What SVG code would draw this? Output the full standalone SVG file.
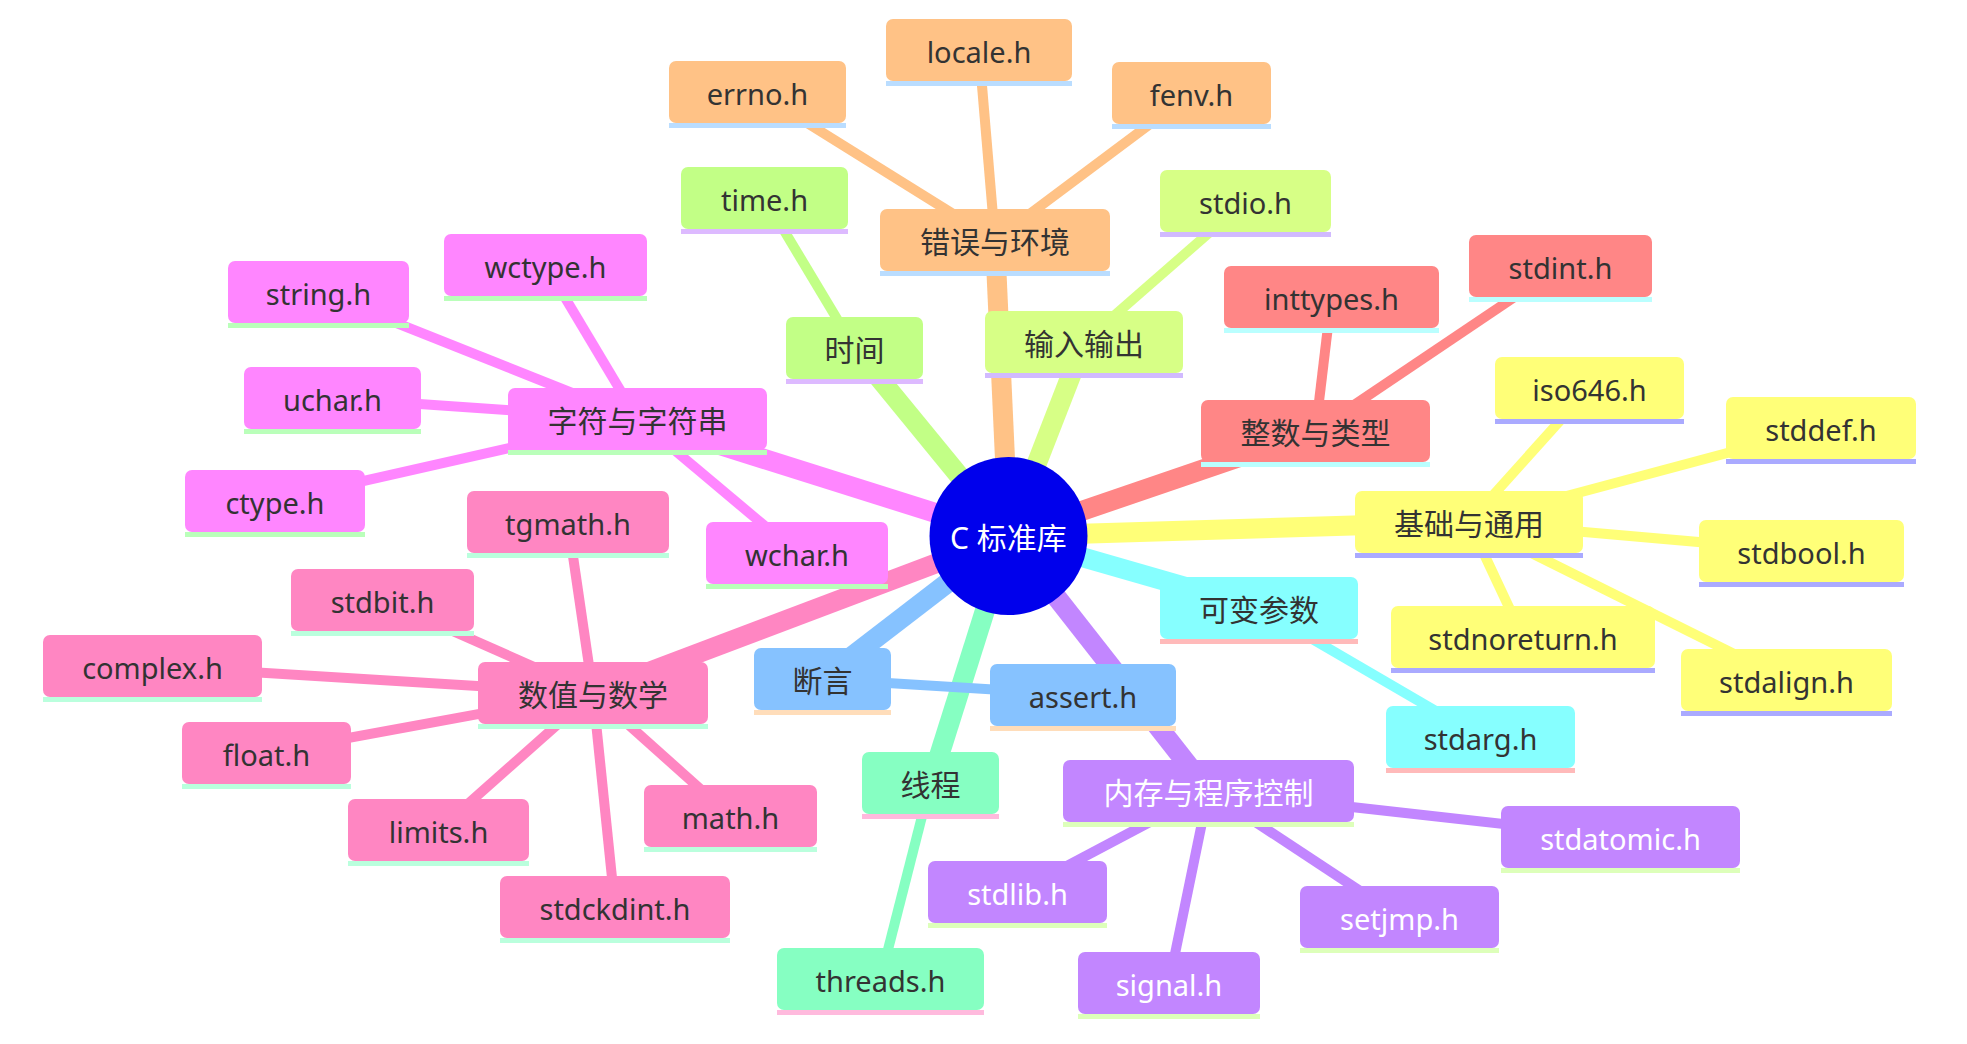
<svg xmlns="http://www.w3.org/2000/svg" width="1967" height="1044" viewBox="0 0 1967 1044">
<style>
text{font-family:"Noto Sans","Noto Sans CJK SC",sans-serif;font-size:29px;fill:#333;text-anchor:middle}
text.c{font-size:30px}
text.w{fill:#fff}
.e0{stroke-width:20;fill:none}
.e1{stroke-width:10;fill:none}
.f0{fill:#ffff78}.l0{fill:#aaaaff}.k0{stroke:#ffff78}
.f1{fill:#d7ff86}.l1{fill:#d1baff}.k1{stroke:#d7ff86}
.f2{fill:#c286ff}.l2{fill:#ddffba}.k2{stroke:#c286ff}
.f3{fill:#ff86ff}.l3{fill:#baffba}.k3{stroke:#ff86ff}
.f4{fill:#ff86c2}.l4{fill:#baffdd}.k4{stroke:#ff86c2}
.f5{fill:#ff8686}.l5{fill:#baffff}.k5{stroke:#ff8686}
.f6{fill:#ffc286}.l6{fill:#baddff}.k6{stroke:#ffc286}
.f7{fill:#c2ff86}.l7{fill:#ddbaff}.k7{stroke:#c2ff86}
.f8{fill:#86ffc2}.l8{fill:#ffbadd}.k8{stroke:#86ffc2}
.f9{fill:#86ffff}.l9{fill:#ffbaba}.k9{stroke:#86ffff}
.f10{fill:#86c2ff}.l10{fill:#ffddba}.k10{stroke:#86c2ff}
</style>
<rect width="1967" height="1044" fill="#fff"/>
<g id="connectors">
<line class="e0 k0" x1="1008.5" y1="536" x2="1469" y2="522"/>
<line class="e0 k1" x1="1008.5" y1="536" x2="1084" y2="342"/>
<line class="e0 k2" x1="1008.5" y1="536" x2="1208.5" y2="791"/>
<line class="e0 k3" x1="1008.5" y1="536" x2="637.5" y2="419"/>
<line class="e0 k4" x1="1008.5" y1="536" x2="593" y2="693"/>
<line class="e0 k5" x1="1008.5" y1="536" x2="1315.5" y2="431"/>
<line class="e0 k6" x1="1008.5" y1="536" x2="995" y2="240"/>
<line class="e0 k7" x1="1008.5" y1="536" x2="854.5" y2="348"/>
<line class="e0 k8" x1="1008.5" y1="536" x2="930.5" y2="783"/>
<line class="e0 k9" x1="1008.5" y1="536" x2="1259" y2="608"/>
<line class="e0 k10" x1="1008.5" y1="536" x2="822.5" y2="679"/>
<line class="e1 k0" x1="1469" y1="522" x2="1589.5" y2="388"/>
<line class="e1 k0" x1="1469" y1="522" x2="1821" y2="428"/>
<line class="e1 k0" x1="1469" y1="522" x2="1801.5" y2="551"/>
<line class="e1 k0" x1="1469" y1="522" x2="1523" y2="637"/>
<line class="e1 k0" x1="1469" y1="522" x2="1786.5" y2="680"/>
<line class="e1 k1" x1="1084" y1="342" x2="1245.5" y2="201"/>
<line class="e1 k2" x1="1208.5" y1="791" x2="1017.5" y2="892"/>
<line class="e1 k2" x1="1208.5" y1="791" x2="1169" y2="983"/>
<line class="e1 k2" x1="1208.5" y1="791" x2="1399.5" y2="917"/>
<line class="e1 k2" x1="1208.5" y1="791" x2="1620.5" y2="837"/>
<line class="e1 k3" x1="637.5" y1="419" x2="318.5" y2="292"/>
<line class="e1 k3" x1="637.5" y1="419" x2="545.5" y2="265"/>
<line class="e1 k3" x1="637.5" y1="419" x2="332.5" y2="398"/>
<line class="e1 k3" x1="637.5" y1="419" x2="275" y2="501"/>
<line class="e1 k3" x1="637.5" y1="419" x2="797" y2="553"/>
<line class="e1 k4" x1="593" y1="693" x2="568" y2="522"/>
<line class="e1 k4" x1="593" y1="693" x2="382.5" y2="600"/>
<line class="e1 k4" x1="593" y1="693" x2="152.5" y2="666"/>
<line class="e1 k4" x1="593" y1="693" x2="266.5" y2="753"/>
<line class="e1 k4" x1="593" y1="693" x2="438.5" y2="830"/>
<line class="e1 k4" x1="593" y1="693" x2="615" y2="907"/>
<line class="e1 k4" x1="593" y1="693" x2="730.5" y2="816"/>
<line class="e1 k5" x1="1315.5" y1="431" x2="1331.5" y2="297"/>
<line class="e1 k5" x1="1315.5" y1="431" x2="1560.5" y2="266"/>
<line class="e1 k6" x1="995" y1="240" x2="757.5" y2="92"/>
<line class="e1 k6" x1="995" y1="240" x2="979" y2="50"/>
<line class="e1 k6" x1="995" y1="240" x2="1191.5" y2="93"/>
<line class="e1 k7" x1="854.5" y1="348" x2="764.5" y2="198"/>
<line class="e1 k8" x1="930.5" y1="783" x2="880.5" y2="979"/>
<line class="e1 k9" x1="1259" y1="608" x2="1480.5" y2="737"/>
<line class="e1 k10" x1="822.5" y1="679" x2="1083" y2="695"/>
</g>
<g id="root"><circle cx="1008.5" cy="536" r="79" fill="#0000ec"/><text class="c w" x="1008.5" y="548.5">C 标准库</text></g>

<g id="n-base"><rect class="f0" x="1355" y="491" width="228" height="62" rx="7"/><rect class="l0" x="1355" y="553" width="228" height="5"/><text class="c" x="1469" y="534.5">基础与通用</text></g>
<g id="n-iso646"><rect class="f0" x="1495" y="357" width="189" height="62" rx="7"/><rect class="l0" x="1495" y="419" width="189" height="5"/><text x="1589.5" y="400.5">iso646.h</text></g>
<g id="n-stddef"><rect class="f0" x="1726" y="397" width="190" height="62" rx="7"/><rect class="l0" x="1726" y="459" width="190" height="5"/><text x="1821" y="440.5">stddef.h</text></g>
<g id="n-stdbool"><rect class="f0" x="1699" y="520" width="205" height="62" rx="7"/><rect class="l0" x="1699" y="582" width="205" height="5"/><text x="1801.5" y="563.5">stdbool.h</text></g>
<g id="n-stdnoreturn"><rect class="f0" x="1391" y="606" width="264" height="62" rx="7"/><rect class="l0" x="1391" y="668" width="264" height="5"/><text x="1523" y="649.5">stdnoreturn.h</text></g>
<g id="n-stdalign"><rect class="f0" x="1681" y="649" width="211" height="62" rx="7"/><rect class="l0" x="1681" y="711" width="211" height="5"/><text x="1786.5" y="692.5">stdalign.h</text></g>

<g id="n-io"><rect class="f1" x="985" y="311" width="198" height="62" rx="7"/><rect class="l1" x="985" y="373" width="198" height="5"/><text class="c" x="1084" y="354.5">输入输出</text></g>
<g id="n-stdio"><rect class="f1" x="1160" y="170" width="171" height="62" rx="7"/><rect class="l1" x="1160" y="232" width="171" height="5"/><text x="1245.5" y="213.5">stdio.h</text></g>

<g id="n-mem"><rect class="f2" x="1063" y="760" width="291" height="62" rx="7"/><rect class="l2" x="1063" y="822" width="291" height="5"/><text class="c w" x="1208.5" y="803.5">内存与程序控制</text></g>
<g id="n-stdlib"><rect class="f2" x="928" y="861" width="179" height="62" rx="7"/><rect class="l2" x="928" y="923" width="179" height="5"/><text class="w" x="1017.5" y="904.5">stdlib.h</text></g>
<g id="n-signal"><rect class="f2" x="1078" y="952" width="182" height="62" rx="7"/><rect class="l2" x="1078" y="1014" width="182" height="5"/><text class="w" x="1169" y="995.5">signal.h</text></g>
<g id="n-setjmp"><rect class="f2" x="1300" y="886" width="199" height="62" rx="7"/><rect class="l2" x="1300" y="948" width="199" height="5"/><text class="w" x="1399.5" y="929.5">setjmp.h</text></g>
<g id="n-stdatomic"><rect class="f2" x="1501" y="806" width="239" height="62" rx="7"/><rect class="l2" x="1501" y="868" width="239" height="5"/><text class="w" x="1620.5" y="849.5">stdatomic.h</text></g>

<g id="n-str"><rect class="f3" x="508" y="388" width="259" height="62" rx="7"/><rect class="l3" x="508" y="450" width="259" height="5"/><text class="c" x="637.5" y="431.5">字符与字符串</text></g>
<g id="n-string"><rect class="f3" x="228" y="261" width="181" height="62" rx="7"/><rect class="l3" x="228" y="323" width="181" height="5"/><text x="318.5" y="304.5">string.h</text></g>
<g id="n-wctype"><rect class="f3" x="444" y="234" width="203" height="62" rx="7"/><rect class="l3" x="444" y="296" width="203" height="5"/><text x="545.5" y="277.5">wctype.h</text></g>
<g id="n-uchar"><rect class="f3" x="244" y="367" width="177" height="62" rx="7"/><rect class="l3" x="244" y="429" width="177" height="5"/><text x="332.5" y="410.5">uchar.h</text></g>
<g id="n-ctype"><rect class="f3" x="185" y="470" width="180" height="62" rx="7"/><rect class="l3" x="185" y="532" width="180" height="5"/><text x="275" y="513.5">ctype.h</text></g>
<g id="n-wchar"><rect class="f3" x="706" y="522" width="182" height="62" rx="7"/><rect class="l3" x="706" y="584" width="182" height="5"/><text x="797" y="565.5">wchar.h</text></g>

<g id="n-math-grp"><rect class="f4" x="478" y="662" width="230" height="62" rx="7"/><rect class="l4" x="478" y="724" width="230" height="5"/><text class="c" x="593" y="705.5">数值与数学</text></g>
<g id="n-tgmath"><rect class="f4" x="467" y="491" width="202" height="62" rx="7"/><rect class="l4" x="467" y="553" width="202" height="5"/><text x="568" y="534.5">tgmath.h</text></g>
<g id="n-stdbit"><rect class="f4" x="291" y="569" width="183" height="62" rx="7"/><rect class="l4" x="291" y="631" width="183" height="5"/><text x="382.5" y="612.5">stdbit.h</text></g>
<g id="n-complex"><rect class="f4" x="43" y="635" width="219" height="62" rx="7"/><rect class="l4" x="43" y="697" width="219" height="5"/><text x="152.5" y="678.5">complex.h</text></g>
<g id="n-float"><rect class="f4" x="182" y="722" width="169" height="62" rx="7"/><rect class="l4" x="182" y="784" width="169" height="5"/><text x="266.5" y="765.5">float.h</text></g>
<g id="n-limits"><rect class="f4" x="348" y="799" width="181" height="62" rx="7"/><rect class="l4" x="348" y="861" width="181" height="5"/><text x="438.5" y="842.5">limits.h</text></g>
<g id="n-stdckdint"><rect class="f4" x="500" y="876" width="230" height="62" rx="7"/><rect class="l4" x="500" y="938" width="230" height="5"/><text x="615" y="919.5">stdckdint.h</text></g>
<g id="n-math"><rect class="f4" x="644" y="785" width="173" height="62" rx="7"/><rect class="l4" x="644" y="847" width="173" height="5"/><text x="730.5" y="828.5">math.h</text></g>

<g id="n-int"><rect class="f5" x="1201" y="400" width="229" height="62" rx="7"/><rect class="l5" x="1201" y="462" width="229" height="5"/><text class="c" x="1315.5" y="443.5">整数与类型</text></g>
<g id="n-inttypes"><rect class="f5" x="1224" y="266" width="215" height="62" rx="7"/><rect class="l5" x="1224" y="328" width="215" height="5"/><text x="1331.5" y="309.5">inttypes.h</text></g>
<g id="n-stdint"><rect class="f5" x="1469" y="235" width="183" height="62" rx="7"/><rect class="l5" x="1469" y="297" width="183" height="5"/><text x="1560.5" y="278.5">stdint.h</text></g>

<g id="n-err"><rect class="f6" x="880" y="209" width="230" height="62" rx="7"/><rect class="l6" x="880" y="271" width="230" height="5"/><text class="c" x="995" y="252.5">错误与环境</text></g>
<g id="n-errno"><rect class="f6" x="669" y="61" width="177" height="62" rx="7"/><rect class="l6" x="669" y="123" width="177" height="5"/><text x="757.5" y="104.5">errno.h</text></g>
<g id="n-locale"><rect class="f6" x="886" y="19" width="186" height="62" rx="7"/><rect class="l6" x="886" y="81" width="186" height="5"/><text x="979" y="62.5">locale.h</text></g>
<g id="n-fenv"><rect class="f6" x="1112" y="62" width="159" height="62" rx="7"/><rect class="l6" x="1112" y="124" width="159" height="5"/><text x="1191.5" y="105.5">fenv.h</text></g>

<g id="n-time-grp"><rect class="f7" x="786" y="317" width="137" height="62" rx="7"/><rect class="l7" x="786" y="379" width="137" height="5"/><text class="c" x="854.5" y="360.5">时间</text></g>
<g id="n-time"><rect class="f7" x="681" y="167" width="167" height="62" rx="7"/><rect class="l7" x="681" y="229" width="167" height="5"/><text x="764.5" y="210.5">time.h</text></g>

<g id="n-thr"><rect class="f8" x="862" y="752" width="137" height="62" rx="7"/><rect class="l8" x="862" y="814" width="137" height="5"/><text class="c" x="930.5" y="795.5">线程</text></g>
<g id="n-threads"><rect class="f8" x="777" y="948" width="207" height="62" rx="7"/><rect class="l8" x="777" y="1010" width="207" height="5"/><text x="880.5" y="991.5">threads.h</text></g>

<g id="n-var"><rect class="f9" x="1160" y="577" width="198" height="62" rx="7"/><rect class="l9" x="1160" y="639" width="198" height="5"/><text class="c" x="1259" y="620.5">可变参数</text></g>
<g id="n-stdarg"><rect class="f9" x="1386" y="706" width="189" height="62" rx="7"/><rect class="l9" x="1386" y="768" width="189" height="5"/><text x="1480.5" y="749.5">stdarg.h</text></g>

<g id="n-assert-grp"><rect class="f10" x="754" y="648" width="137" height="62" rx="7"/><rect class="l10" x="754" y="710" width="137" height="5"/><text class="c" x="822.5" y="691.5">断言</text></g>
<g id="n-assert"><rect class="f10" x="990" y="664" width="186" height="62" rx="7"/><rect class="l10" x="990" y="726" width="186" height="5"/><text x="1083" y="707.5">assert.h</text></g>
</svg>
